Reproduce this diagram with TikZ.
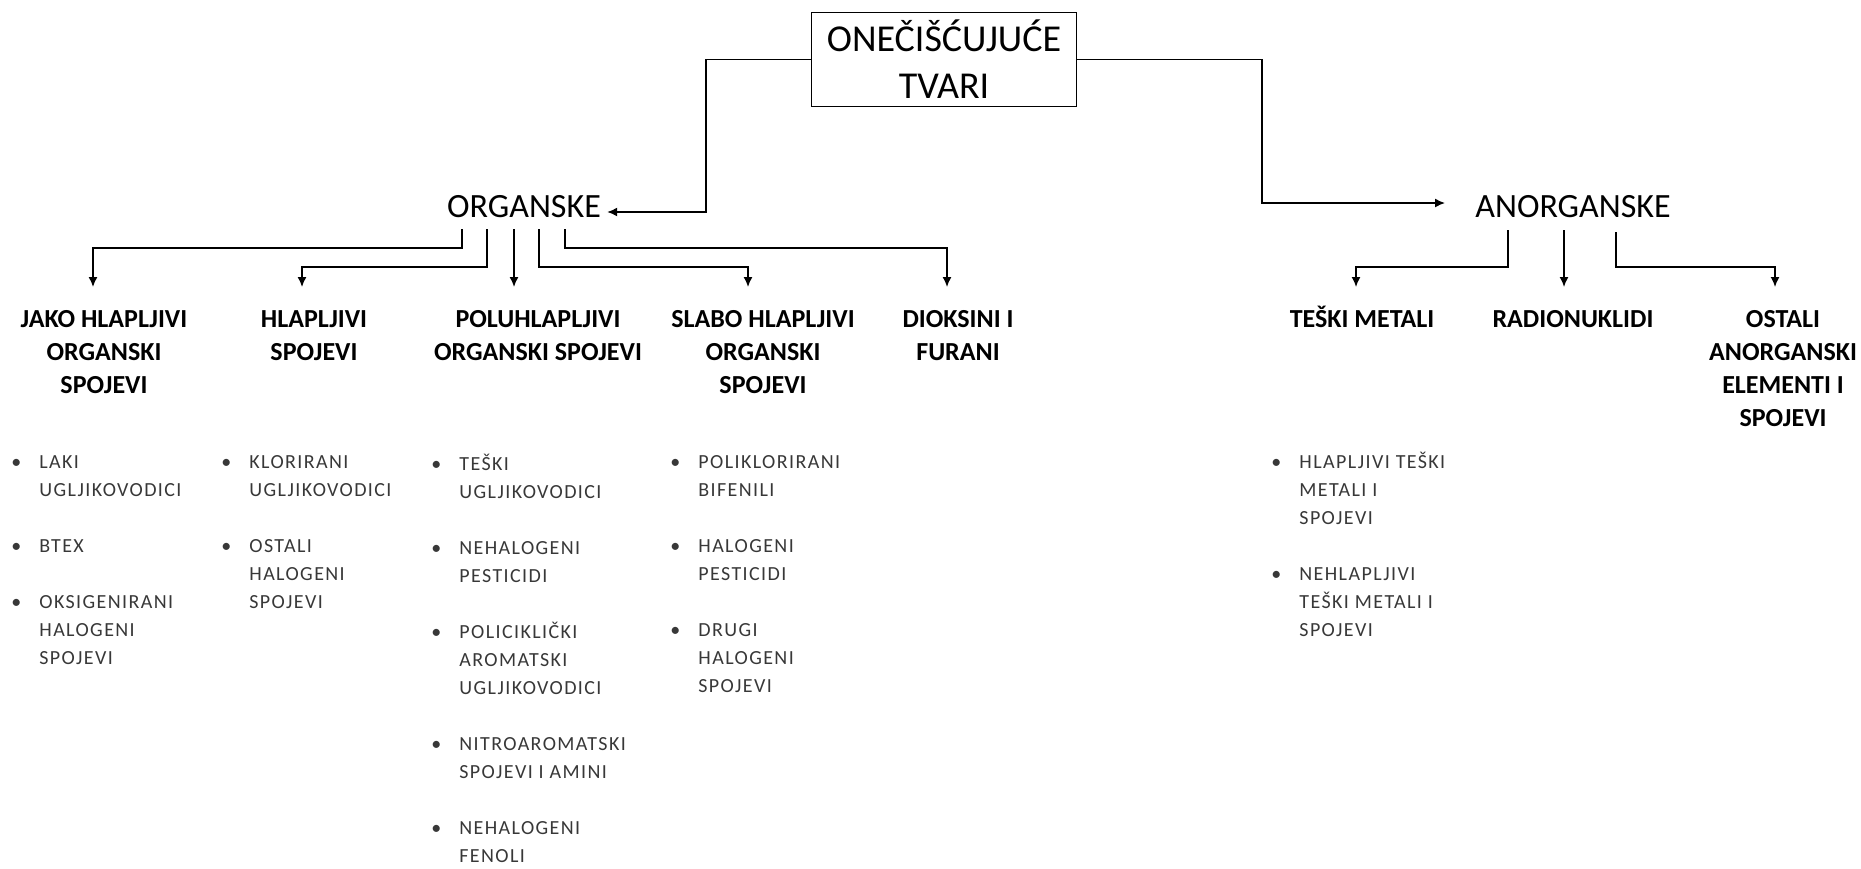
\documentclass[tikz,border=0pt]{standalone}
\usepackage{fontspec}
\setmainfont{Carlito}
\newfontfamily\listfont{Carlito}[LetterSpace=7]
\usetikzlibrary{arrows.meta}

\newcommand{\tocka}{\makebox[23pt]{\textbullet}}
\newcommand{\uvuci}{\hspace*{23pt}}

\begin{document}
\begin{tikzpicture}[x=0.5pt,y=-0.5pt,>={Latex[length=5pt,width=4.5pt]},
    veza/.style={->,line width=0.75pt},
    glavni/.style={anchor=base,inner sep=3pt,font=\fontsize{17}{20}\selectfont},
    naslov/.style={anchor=base,align=center,inner sep=0pt,font=\fontsize{13}{16.5}\selectfont\bfseries},
    popis/.style={anchor=base west,align=left,inner sep=0pt,text=black!78,font=\fontsize{10}{14}\selectfont\listfont}]
        \useasboundingbox (0,0) rectangle (1861,868);

        \node[draw,line width=0.75pt,minimum width=132.5pt,minimum height=47.2pt,align=center,
              font=\fontsize{19}{23.5}\selectfont] (tvari) at (944,59.5) {ONEČIŠĆUJUĆE\\TVARI}; % vrh

        \node[glavni] (org) at (524,217) {ORGANSKE};
        \node[glavni] (anorg) at (1573,217) {ANORGANSKE};

        \coordinate (k1) at (706,212);
        \coordinate (k2) at (1262,203);
        \coordinate (anorgtip) at (1445,203);

        \draw[veza] (tvari.west) -| (k1) -- (k1 -| org.east);
        \draw[veza] (tvari.east) -| (k2) -- (anorgtip);

        % organske skupine (base = zadnji redak)
        \node[naslov] (jako) at (104,393) {JAKO HLAPLJIVI\\ORGANSKI\\SPOJEVI};
        \node[naslov] (hlap) at (314,360) {HLAPLJIVI\\SPOJEVI};
        \node[naslov] (polu) at (538,360) {POLUHLAPLJIVI\\ORGANSKI SPOJEVI};
        \node[naslov] (slabo) at (763,393) {SLABO HLAPLJIVI\\ORGANSKI\\SPOJEVI};
        \node[naslov] (diok) at (958,360) {DIOKSINI I\\FURANI};

        % anorganske skupine
        \node[naslov] (teski) at (1362,327) {TEŠKI METALI};
        \node[naslov] (radio) at (1573,327) {RADIONUKLIDI};
        \node[naslov] (ostali) at (1783,426) {OSTALI\\ANORGANSKI\\ELEMENTI I\\SPOJEVI};

        \coordinate (o1) at (462,229);
        \coordinate (o2) at (487,229);
        \coordinate (o3) at (514,229);
        \coordinate (o4) at (539,229);
        \coordinate (o5) at (565,229);
        \coordinate (t1) at (93,287);
        \coordinate (t2) at (302,287);
        \coordinate (t3) at (514,287);
        \coordinate (t4) at (748,287);
        \coordinate (t5) at (947,287);

        \draw[veza] (o1) -- ++(0,19) -| (t1);
        \draw[veza] (o2) -- ++(0,38) -| (t2);
        \draw[veza] (o3) -- (t3);
        \draw[veza] (o4) -- ++(0,38) -| (t4);
        \draw[veza] (o5) -- ++(0,19) -| (t5);

        \coordinate (a1) at (1508,230);
        \coordinate (a2) at (1564,230);
        \coordinate (a3) at (1616,232);
        \coordinate (u1) at (1356,287);
        \coordinate (u2) at (1564,287);
        \coordinate (u3) at (1775,287);

        \draw[veza] (a1) |- ++(0,37) -| (u1);
        \draw[veza] (a2) -- (u2);
        \draw[veza] (a3) |- ++(0,35) -| (u3);

        % popisi spojeva (base = zadnji redak)
        \node[popis] (p1) at (-7,664) {\tocka LAKI\\\uvuci UGLJIKOVODICI\\[14pt]
            \tocka BTEX\\[14pt]
            \tocka OKSIGENIRANI\\\uvuci HALOGENI\\\uvuci SPOJEVI};
        \node[popis] (p2) at (203,608) {\tocka KLORIRANI\\\uvuci UGLJIKOVODICI\\[14pt]
            \tocka OSTALI\\\uvuci HALOGENI\\\uvuci SPOJEVI};
        \node[popis] (p3) at (413,862) {\tocka TEŠKI\\\uvuci UGLJIKOVODICI\\[14pt]
            \tocka NEHALOGENI\\\uvuci PESTICIDI\\[14pt]
            \tocka POLICIKLIČKI\\\uvuci AROMATSKI\\\uvuci UGLJIKOVODICI\\[14pt]
            \tocka NITROAROMATSKI\\\uvuci SPOJEVI I AMINI\\[14pt]
            \tocka NEHALOGENI\\\uvuci FENOLI};
        \node[popis] (p4) at (652,692) {\tocka POLIKLORIRANI\\\uvuci BIFENILI\\[14pt]
            \tocka HALOGENI\\\uvuci PESTICIDI\\[14pt]
            \tocka DRUGI\\\uvuci HALOGENI\\\uvuci SPOJEVI};
        \node[popis] (p5) at (1253,636) {\tocka HLAPLJIVI TEŠKI\\\uvuci METALI I\\\uvuci SPOJEVI\\[14pt]
            \tocka NEHLAPLJIVI\\\uvuci TEŠKI METALI I\\\uvuci SPOJEVI};
    \end{tikzpicture}
\end{document}
